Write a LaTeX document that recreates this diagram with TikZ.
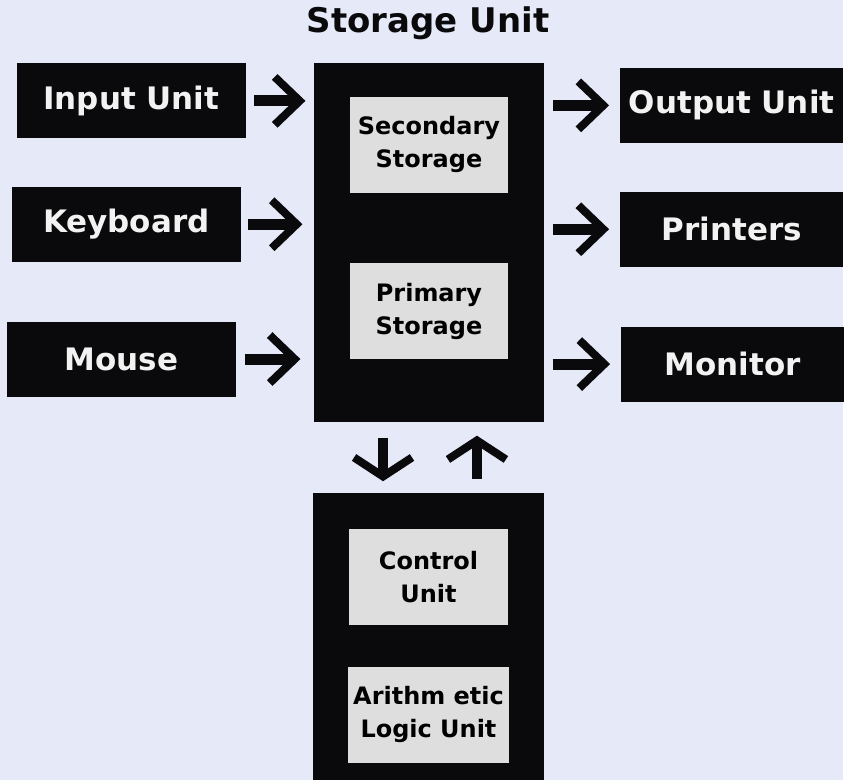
\documentclass[tikz,border=0pt]{standalone}
\usepackage{fontspec}
\setmainfont{DejaVu Sans}
\usepackage{tikz}
\usetikzlibrary{arrows.meta, positioning}
\usepackage{xcolor}

\definecolor{bgblue}{RGB}{229,233,248}
\definecolor{boxblack}{RGB}{10,10,12}
\definecolor{storegray}{RGB}{222,222,222}
\definecolor{labelwhite}{RGB}{242,242,242}

\begin{document}
\begin{tikzpicture}[
            x=1pt, y=-1pt,
            unitbox/.style={ rectangle, fill=boxblack, text=labelwhite, inner sep=0pt, minimum width=229pt, minimum height=75pt, font=\bfseries\fontsize{31}{36}\selectfont },
            holderbox/.style={ rectangle, fill=boxblack, inner sep=0pt },
            storebox/.style={ rectangle, fill=storegray, text=black, inner sep=0pt, minimum width=159pt, minimum height=96pt, align=center, font=\bfseries\fontsize{24}{33}\selectfont },
            arrow/.style={ -{Straight Barb[length=25pt, width=48pt, line width=8pt]}, line width=11pt, draw=boxblack },
            varrow/.style={ -{Straight Barb[length=19pt, width=58pt, line width=8pt]}, line width=10pt, draw=boxblack }
        ]
            % Background
            \fill[bgblue] (0,0) rectangle (844,781);

            % Title
            \node (title) at (428.5,23) [font=\bfseries\fontsize{34}{38}\selectfont, text=boxblack] {Storage Unit};

            % Input nodes
            \node (inputunit) [unitbox] at (131.5,101) {Input Unit};
            \node (keyboard) [unitbox] at (126.5,224.5) {Keyboard};
            \node (mouse) [unitbox] at (121.5,359.5) {Mouse};

            % Storage unit
            \node (storage) [holderbox, minimum width=231pt, minimum height=359pt] at (429.5,242.5) {};
            \node (secondary) [storebox, below=34pt of storage.north] {Secondary\\Storage};
            \node (primary) [storebox, below=70pt of secondary] {Primary\\Storage};

            % Output nodes
            \node (outputunit) [unitbox, minimum width=223pt] at (732.5,105.5) {Output Unit};
            \node (printers) [unitbox, minimum width=223pt] at (732.5,229.5) {Printers};
            \node (monitor) [unitbox, minimum width=223pt] at (733.5,364.5) {Monitor};

            % Processing unit
            \node (cpu) [holderbox, minimum width=232pt, minimum height=287pt] at (429,637.5) {};
            \node (control) [storebox] at (429,578) {Control\\Unit};
            \node (alu) [storebox, minimum width=161pt, below=41pt of control] {Arithm etic\\Logic Unit};

            % Arrows
            \draw[arrow, shorten <=8pt, shorten >=8pt] (inputunit.east) -- (inputunit.east -| storage.west);
            \draw[arrow, shorten <=7pt, shorten >=11pt] (keyboard.east) -- (keyboard.east -| storage.west);
            \draw[arrow, shorten <=9pt, shorten >=13pt] (mouse.east) -- (mouse.east -| storage.west);
            \draw[arrow, shorten <=8pt, shorten >=11pt] (storage.east |- outputunit.west) -- (outputunit.west);
            \draw[arrow, shorten <=8pt, shorten >=11pt] (storage.east |- printers.west) -- (printers.west);
            \draw[arrow, shorten <=8pt, shorten >=11pt] (storage.east |- monitor.west) -- (monitor.west);
            \draw[varrow, shorten <=16pt, shorten >=12pt] ([xshift=-46pt]storage.south) -- ([xshift=-46pt]storage.south |- cpu.north);
            \draw[varrow, shorten <=14pt, shorten >=14pt] ([xshift=48pt]storage.south |- cpu.north) -- ([xshift=48pt]storage.south);

        \end{tikzpicture}
\end{document}
